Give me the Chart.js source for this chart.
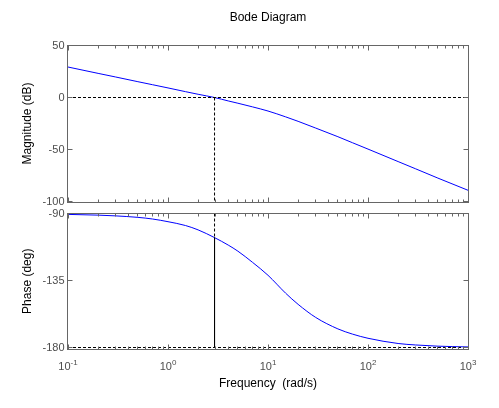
<!DOCTYPE html>
<html>
<head>
<meta charset="utf-8">
<script src="https://cdn.jsdelivr.net/npm/chart.js@4.4.0/dist/chart.umd.min.js"></script>
<style>
  html, body { margin: 0; padding: 0; background: #fff; }
  #wrap { position: relative; width: 499px; height: 408px; }
  #magCanvas { position: absolute; left: 0; top: 0; }
  #phaseCanvas { position: absolute; left: 0; top: 207px; }
</style>
</head>
<body>
<div id="wrap">
  <canvas id="magCanvas" width="499" height="207"></canvas>
  <canvas id="phaseCanvas" width="499" height="201"></canvas>
</div>
<script>
// 周波数 (rad/s)
const freq = [0.1, 0.2, 0.3, 0.5, 0.7, 1, 1.5, 2, 2.92, 4, 5, 7, 10, 15, 20, 30, 50, 70, 100, 200, 300, 500, 1000];
// ゲイン (dB)
const magnitude = [29.3, 23.2, 19.7, 15.2, 12.3, 9.2, 5.6, 3.1, 0, -3.3, -5.5, -9.0, -13.0, -18.6, -22.9, -29.4, -37.7, -43.5, -49.6, -61.6, -68.6, -77.5, -89.2];
// 位相 (deg)
const phase = [-90.6, -91.1, -91.6, -92.6, -93.7, -95.5, -98.1, -101.0, -106.2, -111.2, -115.3, -122.8, -131.5, -143.5, -151, -159.8, -167.5, -171, -173.8, -177.3, -178.3, -179.1, -179.6];

// ゲイン交差周波数とその位相
const crossFreq = 2.92;
const crossPhase = -106.2;

// 目盛り
const xMajorTicks = [0.1, 1, 10, 100, 1000];
const xExponents = ['-1', '0', '1', '2', '3'];
const xMinorSteps = [2, 3, 4, 5, 6, 7, 8, 9];
const magTicks = [50, 0, -50, -100];
const phaseTicks = [-90, -135, -180];

const FONT = "'Liberation Sans', Arial, sans-serif";
const BLUE = '#0000ff';

const toPoints = (xs, ys) => xs.map((x, i) => ({ x: x, y: ys[i] }));

/**
 * MATLAB風の枠・内向き目盛り・ラベルを描くプラグイン
 */
const bodeFrame = {
    id: 'bodeFrame',
    afterDraw(chart, args, opts) {
        const { ctx, chartArea: a, scales: { x, y } } = chart;
        const L = Math.round(a.left) - 0.5;
        const R = Math.round(a.right) + 0.5;
        const T = Math.round(a.top) - 0.5;
        const B = Math.round(a.bottom) + 0.5;
        ctx.save();

        // 目盛り線（内向き）
        ctx.strokeStyle = '#666';
        ctx.lineWidth = 1;
        ctx.beginPath();
        const tickX = (v, len) => {
            const px = Math.floor(x.getPixelForValue(v)) + 0.5;
            ctx.moveTo(px, T); ctx.lineTo(px, T + len);
            ctx.moveTo(px, B); ctx.lineTo(px, B - len);
        };
        xMajorTicks.forEach((d, i) => {
            tickX(d, 5);
            if (i < xMajorTicks.length - 1) {
                xMinorSteps.forEach(k => tickX(d * k, 3));
            }
        });
        opts.yTicks.forEach(v => {
            const py = Math.floor(y.getPixelForValue(v)) + 0.5;
            ctx.moveTo(L, py); ctx.lineTo(L + 5, py);
            ctx.moveTo(R, py); ctx.lineTo(R - 5, py);
        });
        ctx.stroke();

        // 枠
        ctx.strokeRect(L, T, R - L, B - T);

        // Y軸の数値
        ctx.fillStyle = '#4d4d4d';
        ctx.font = '11px ' + FONT;
        ctx.textAlign = 'right';
        ctx.textBaseline = 'middle';
        opts.yTicks.forEach(v => {
            ctx.fillText(String(v), L - 3, y.getPixelForValue(v) + 0.5);
        });

        // X軸の数値 (10^n)
        if (opts.xLabels) {
            xMajorTicks.forEach((d, i) => {
                const px = x.getPixelForValue(d);
                ctx.font = '11px ' + FONT;
                const wBase = ctx.measureText('10').width;
                ctx.font = '8px ' + FONT;
                const wExp = ctx.measureText(xExponents[i]).width;
                const start = px - (wBase + wExp) / 2;
                ctx.textAlign = 'left';
                ctx.textBaseline = 'alphabetic';
                ctx.font = '11px ' + FONT;
                ctx.fillText('10', start, B + 20);
                ctx.font = '8px ' + FONT;
                ctx.fillText(xExponents[i], start + wBase, B + 15);
            });
        }

        // タイトル・軸ラベル
        ctx.fillStyle = '#000';
        ctx.font = '12px ' + FONT;
        ctx.textAlign = 'center';
        ctx.textBaseline = 'middle';
        if (opts.title) {
            ctx.fillText(opts.title, (a.left + a.right) / 2, 18);
        }
        if (opts.xTitle) {
            ctx.fillText(opts.xTitle, (a.left + a.right) / 2, B + 34);
        }
        ctx.translate(28, (a.top + a.bottom) / 2);
        ctx.rotate(-Math.PI / 2);
        ctx.fillText(opts.yTitle, 0, 0);
        ctx.restore();
    }
};

const dashed = { borderColor: '#000', borderWidth: 1, borderDash: [3, 2], pointRadius: 0, fill: false };

function baseOptions(yMin, yMax, padding, frame) {
    return {
        responsive: false,
        animation: false,
        events: [],
        layout: { padding: padding },
        plugins: {
            legend: { display: false },
            tooltip: { enabled: false },
            bodeFrame: frame
        },
        elements: { point: { radius: 0 } },
        scales: {
            x: { type: 'logarithmic', min: 0.1, max: 1000, display: false },
            y: { type: 'linear', min: yMin, max: yMax, display: false }
        }
    };
}

// ゲイン線図
new Chart(document.getElementById('magCanvas'), {
    type: 'line',
    data: {
        datasets: [
            { ...dashed, data: [{ x: 0.1, y: 0 }, { x: 1000, y: 0 }] },
            { ...dashed, data: [{ x: crossFreq, y: 0 }, { x: crossFreq, y: -100 }] },
            {
                data: toPoints(freq, magnitude),
                borderColor: BLUE,
                borderWidth: 1,
                cubicInterpolationMode: 'monotone',
                fill: false
            }
        ]
    },
    options: baseOptions(-100, 50, { left: 68, right: 31, top: 45.5, bottom: 5.5 }, {
        yTicks: magTicks,
        yTitle: 'Magnitude (dB)',
        title: 'Bode Diagram',
        xLabels: false
    }),
    plugins: [bodeFrame]
});

// 位相線図
new Chart(document.getElementById('phaseCanvas'), {
    type: 'line',
    data: {
        datasets: [
            { ...dashed, data: [{ x: 0.1, y: -180 }, { x: 1000, y: -180 }] },
            { ...dashed, data: [{ x: crossFreq, y: -90 }, { x: crossFreq, y: crossPhase }] },
            {
                data: [{ x: crossFreq, y: crossPhase }, { x: crossFreq, y: -180 }],
                borderColor: '#000',
                borderWidth: 1,
                pointRadius: 0,
                fill: false
            },
            {
                data: toPoints(freq, phase),
                borderColor: BLUE,
                borderWidth: 1,
                cubicInterpolationMode: 'monotone',
                fill: false
            }
        ]
    },
    options: baseOptions(-181, -90, { left: 68, right: 31, top: 6.5, bottom: 59 }, {
        yTicks: phaseTicks,
        yTitle: 'Phase (deg)',
        xTitle: 'Frequency  (rad/s)',
        xLabels: true
    }),
    plugins: [bodeFrame]
});
</script>
</body>
</html>
